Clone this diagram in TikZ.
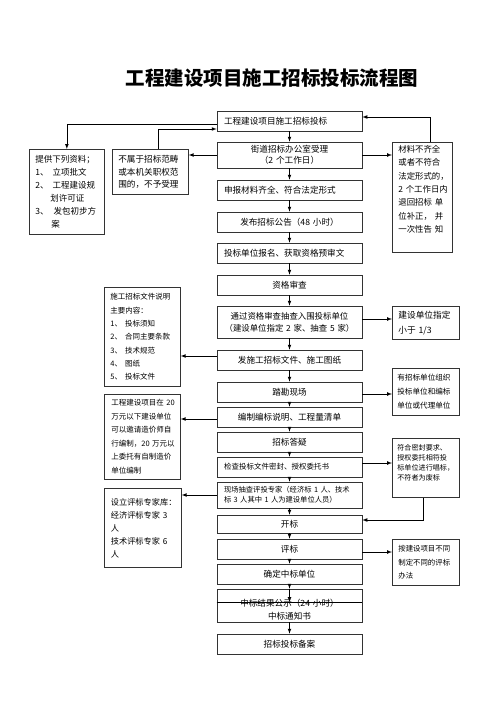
\documentclass[tikz,border=0pt]{standalone}
\usepackage{fontspec}
\setmainfont{Noto Sans CJK SC}
\usepackage{tikz}

\tikzset{
  mainbox/.style = {draw = black!80, minimum width = 145pt, minimum height = 20pt,
    text width = 131pt, inner xsep = 7pt, inner ysep = 2pt, align = center,
    font = \fontsize{8.6}{11}\selectfont},
  sidebox/.style = {draw = black!80, anchor = north west, align = left,
    inner xsep = 6pt, inner ysep = 3pt}
}

\begin{document}
\begin{tikzpicture}[x = 1pt, y = -1pt, >=latex, line width = 0.7pt]
        \useasboundingbox (0,0) rectangle (500,707);
        \node (title) at (272,78) {\fontsize{19.5}{22}\selectfont\bfseries 工程建设项目施工招标投标流程图};

        % main column
        \node (project)[mainbox, align = left] at (289.5,121) {工程建设项目施工招标投标};
        \node (accept)[mainbox, minimum height = 26pt, font = \fontsize{8.6}{10.5}\selectfont]
        at (289.5,155) {街道招标办公室受理\\（2~个工作日）};
        \node (materials)[mainbox, align = left] at (289.5,190) {申报材料齐全、符合法定形式};
        \node (notice)[mainbox] at (289.5,222) {发布招标公告（48~小时）};
        \node (register)[mainbox, align = left] at (289.5,253) {投标单位报名、获取资格预审文};
        \node (review)[mainbox] at (289.5,285) {资格审查};
        \node (shortlist)[mainbox, minimum height = 32pt, font = \fontsize{8.4}{12}\selectfont]
        at (289.5,322) {通过资格审查抽查入围投标单位\\（建设单位指定~2~家、抽查~5~家）};
        \node (issue_docs)[mainbox] at (289.5,360) {发施工招标文件、施工图纸};
        \node (site_visit)[mainbox] at (289.5,392) {踏勘现场};
        \node (bill_qty)[mainbox] at (289.5,417) {编制编标说明、工程量清单};
        \node (qa)[mainbox] at (289.5,442) {招标答疑};
        \node (seal_check)[mainbox, align = left, font = \fontsize{7.5}{9}\selectfont]
        at (289.5,467) {检查投标文件密封、授权委托书};
        \node (experts)[mainbox, align = left, minimum height = 26pt, font = \fontsize{7.3}{10}\selectfont]
        at (289.5,495) {现场抽查评投专家（经济标~1~人、技术\\标~3~人其中~1~人为建设单位人员）};
        \node (opening)[mainbox, minimum height = 18pt] at (289.5,524) {开标};
        \node (evaluate)[mainbox] at (289.5,549) {评标};
        \node (winner)[mainbox] at (289.5,574) {确定中标单位};
        \node (publicity)[mainbox, minimum height = 33pt, inner ysep = 1pt, text height = 15pt,
        font = \fontsize{8.6}{13}\selectfont]
        at (289.5,605.5) {中标结果公示（24~小时）\\中标通知书};
        \node (record)[mainbox] at (289.5,644) {招标投标备案};
        \coordinate (notify_line) at (289.5,602);

        % notes on the left
        \node (provide_docs)[sidebox, text width = 63pt, minimum height = 85pt,
        font = \fontsize{8.5}{13}\selectfont] at (29,149)
        {提供下列资料；\\1、\hspace{4pt}立项批文\\2、\hspace{4pt}工程建设规\\\hspace*{15pt}划许可证\\3、\hspace{5pt}发包初步方\\\hspace*{16pt}案};
        \node (reject)[sidebox, text width = 64pt, minimum height = 45pt,
        font = \fontsize{8.6}{12.6}\selectfont] at (112,149)
        {不属于招标范畴\\或本机关职权范\\围的，不予受理};
        \node (doc_content)[sidebox, text width = 64pt, minimum height = 99pt,
        font = \fontsize{7.5}{13.3}\selectfont] at (104,287)
        {施工招标文件说明\\主要内容：\\1、\hspace{3pt}投标须知\\2、\hspace{3pt}合同主要条款\\3、\hspace{3pt}技术规范\\4、\hspace{3pt}图纸\\5、\hspace{3pt}投标文件};
        \node (cost_prep)[sidebox, inner xsep = 7pt, text width = 62pt, minimum height = 85pt,
        font = \fontsize{7.5}{13.5}\selectfont] at (104,394)
        {工程建设项目在~20\\万元以下建设单位\\可以邀请造价师自\\行编制，20~万元以\\上委托有自制造价\\单位编制};
        \node (expert_pool)[sidebox, inner xsep = 6.5pt, text width = 64pt, minimum height = 79pt,
        font = \fontsize{8.2}{13}\selectfont] at (104,488)
        {设立评标专家库：\\经济评标专家~3\\人\\技术评标专家~6\\人};

        % notes on the right
        \node (incomplete)[sidebox, text width = 48pt, text depth = 97pt,
        font = \fontsize{8.4}{13.3}\selectfont] at (392,142)
        {材料不齐全\\或者不符合\\法定形式的，\\2~个工作日内\\退回招标~单\\位补正，~并\\一次性告~知};
        \node (appoint)[sidebox, text width = 55pt, minimum height = 33pt,
        font = \fontsize{8.7}{15}\selectfont] at (392,306)
        {建设单位指定\\小于~1/3};
        \node (organiser)[sidebox, inner xsep = 5pt, text width = 57pt, minimum height = 47pt,
        font = \fontsize{7.6}{14}\selectfont] at (392,368)
        {有招标单位组织\\投标单位和编标\\单位或代理单位};
        \node (sing_bid)[sidebox, inner xsep = 5pt, inner ysep = 6pt, text width = 57pt,
        text depth = 41pt, font = \fontsize{7.1}{10}\selectfont] at (392,438)
        {符合密封要求、\\授权委托相符投\\标单位进行唱标，\\不符者为废标};
        \node (eval_method)[sidebox, text width = 55pt, minimum height = 46pt,
        font = \fontsize{7.4}{13.3}\selectfont] at (392,539)
        {按建设项目不同\\制定不同的评标\\办法};

        % main flow
        \path (project) edge[->] (accept);
        \path (accept) edge[->] (materials);
        \path (materials) edge[->] (notice);
        \path (notice) edge[->] (register);
        \path (register) edge[->] (review);
        \path (review) edge[->] (shortlist);
        \path (shortlist) edge[->] (issue_docs);
        \path (issue_docs) edge[->] (site_visit);
        \path (site_visit) edge[->] (bill_qty);
        \path (bill_qty) edge[->] (qa);
        \path (qa) edge[->] (seal_check);
        \path (seal_check) edge[->] (experts);
        \path (experts) edge[->] (opening);
        \path (opening) edge[->] (evaluate);
        \path (evaluate) edge[->] (winner);
        \path (winner) edge[->] (publicity);
        \path (publicity) edge[->] (record);
        \draw (publicity.west |- notify_line) -- (publicity.east |- notify_line);
        \draw[->] (publicity.north) -- (notify_line);

        % side branches
        \draw[->] ([yshift = -3pt]project.west) -| (provide_docs.north);
        \draw[->] ([xshift = 8pt]reject.north) |- ([yshift = -8pt]project.west);
        \draw[->] (accept.west) -- (accept.west -| reject.east);
        \draw[->] (accept.east) -- (accept.east -| incomplete.west);
        \draw[->] ([xshift = 8pt]incomplete.north) |- ([yshift = 4pt]project.east);
        \draw[->] ([yshift = 3pt]shortlist.east) -- ([yshift = 3pt]shortlist.east -| appoint.west);
        \draw[->] ([yshift = 4pt]issue_docs.west) -- ([yshift = 4pt]issue_docs.west -| doc_content.east);
        \draw[->] ([yshift = -2pt]site_visit.east) -- ([yshift = -2pt]site_visit.east -| organiser.west);
        \draw[->] ([yshift = -2pt]bill_qty.west) -- ([yshift = -2pt]bill_qty.west -| cost_prep.east);
        \draw[->] ([yshift = 4pt]seal_check.east) -- ([yshift = 4pt]seal_check.east -| sing_bid.west);
        \draw[->] ([xshift = -3pt]sing_bid.south) |- ([yshift = 4pt]opening.east);
        \draw[->] (experts.west) -- (experts.west -| expert_pool.east);
        \draw[->] ([yshift = -3pt]evaluate.east) -- ([yshift = -3pt]evaluate.east -| eval_method.west);
    \end{tikzpicture}
\end{document}
